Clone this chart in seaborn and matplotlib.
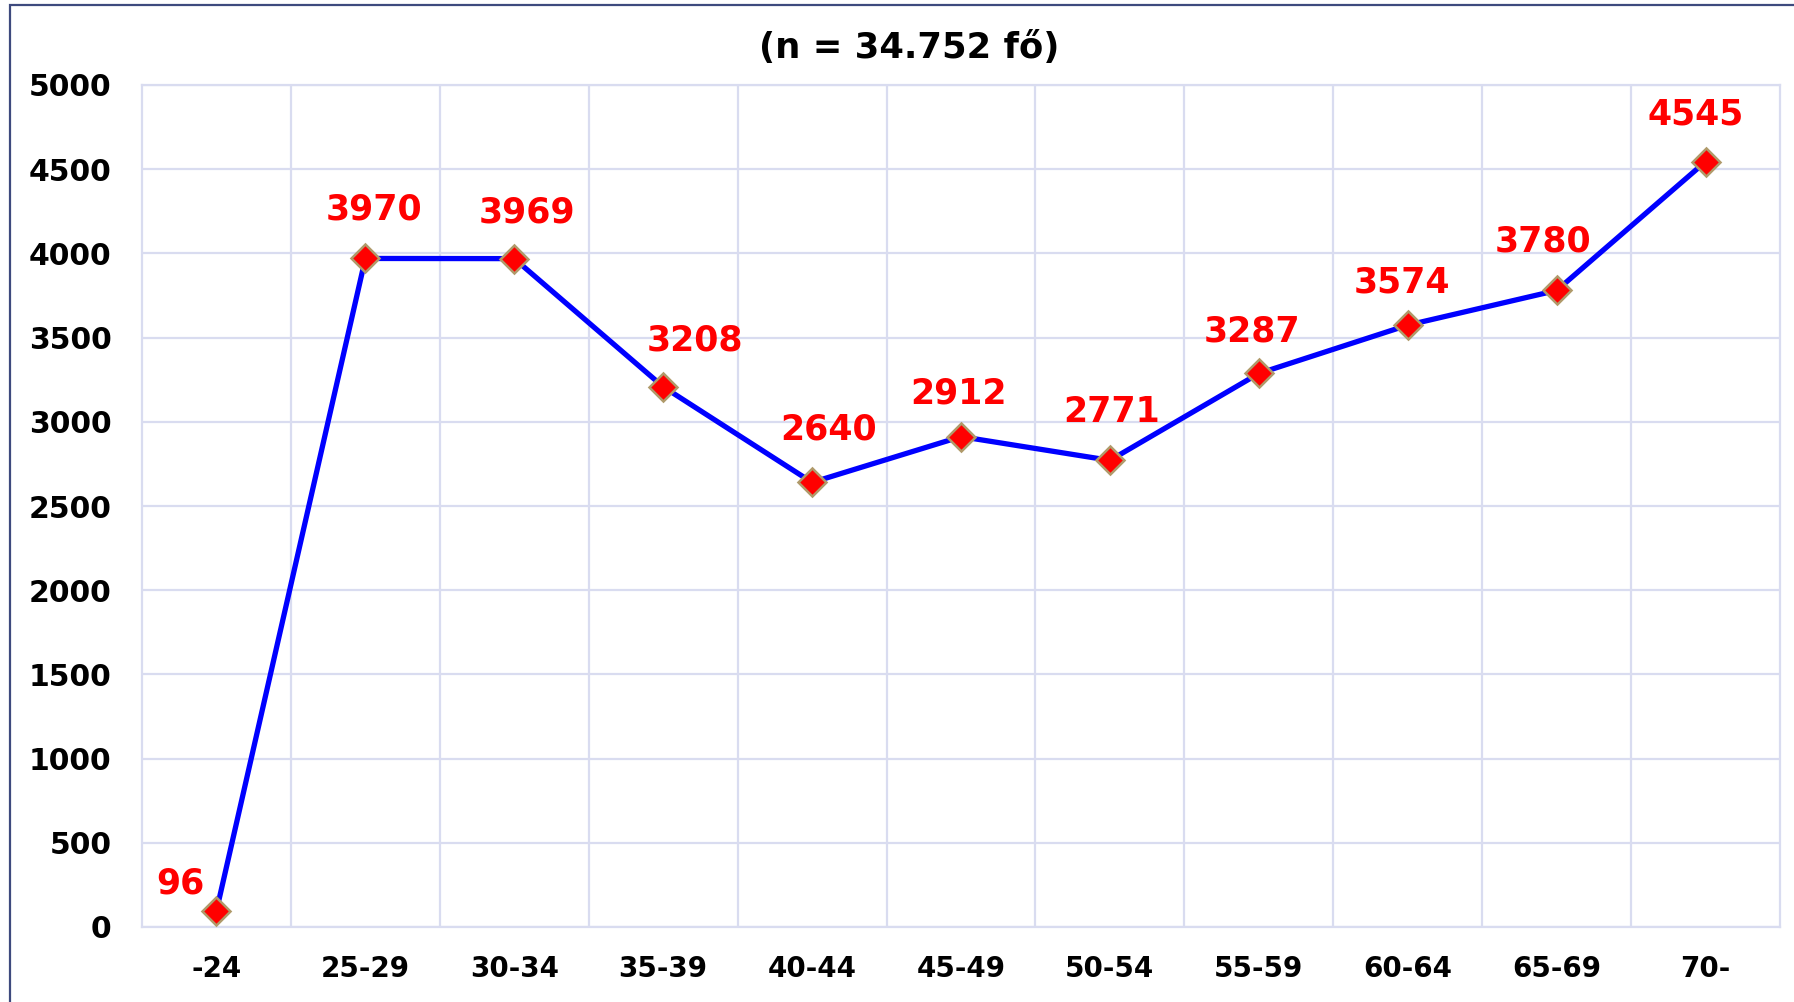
import pandas as pd
import matplotlib
matplotlib.use("Agg")
import matplotlib.pyplot as plt
import matplotlib.patches as patches
import seaborn as sns

# Adatok
korcsoportok = ["-24", "25-29", "30-34", "35-39", "40-44", "45-49",
                "50-54", "55-59", "60-64", "65-69", "70-"]
letszam = [96, 3970, 3969, 3208, 2640, 2912, 2771, 3287, 3574, 3780, 4545]
cim = "(n = 34.752 fő)"

# Cimkek eltolasa (pontban)
cimke_dx = [-26, 6, 9, 23, 12, -2, 1, -5, -4, -10, -7]
cimke_dy = [20, 35, 33, 33, 38, 31, 35, 30, 31, 35, 34]

df = pd.DataFrame({"Korcsoport": korcsoportok, "Letszam": letszam})

sns.set_style("white")
plt.rcParams["font.family"] = ["DejaVu Sans"]
plt.rcParams["font.weight"] = "bold"
plt.rcParams["text.color"] = "black"
plt.rcParams["xtick.color"] = "black"
plt.rcParams["ytick.color"] = "black"

fig = plt.figure(figsize=(17.94, 10.02), dpi=100)
ax = fig.add_axes([142 / 1794, 1 - 927 / 1002, (1780 - 142) / 1794, (927 - 85) / 1002])

racs = "#d9dcf0"
sns.lineplot(data=df, x="Korcsoport", y="Letszam", ax=ax, color="#0000ff",
             linewidth=3.8, marker="D", markersize=14,
             markerfacecolor="#ff0000", markeredgecolor="#b09a6a",
             markeredgewidth=1.8, zorder=3)

for i, v in enumerate(letszam):
    ax.annotate(str(v), (i, v), xytext=(cimke_dx[i], cimke_dy[i]),
                textcoords="offset points", ha="center", va="center",
                color="#ff0000", fontsize=25, fontweight="bold")

ax.set_xlim(-0.5, len(korcsoportok) - 0.5)
ax.set_ylim(0, 5000)
ax.set_yticks(range(0, 5001, 500))
ax.set_xticks(range(len(korcsoportok)))
ax.set_xticklabels(korcsoportok)
ax.set_xticks([i + 0.5 for i in range(len(korcsoportok) - 1)], minor=True)
ax.grid(True, axis="y", color=racs, linewidth=1.6)
ax.grid(True, axis="x", which="minor", color=racs, linewidth=1.6)
ax.grid(False, axis="x", which="major")
ax.tick_params(axis="x", which="both", length=0, pad=20.5, labelsize=20, labelcolor="black")
ax.tick_params(axis="y", length=0, pad=22, labelsize=21.5, labelcolor="black")
for lbl in ax.get_xticklabels() + ax.get_yticklabels():
    lbl.set_fontweight("bold")
for s in ax.spines.values():
    s.set_color(racs)
    s.set_linewidth(1.6)
ax.set_xlabel("")
ax.set_ylabel("")

fig.text(909 / 1794, 1 - 48 / 1002, cim, ha="center", va="center",
         fontsize=25.5, fontweight="bold", color="black")

keret = patches.Rectangle((9.5 / 1794, -0.01), 1.02, 1 - 5 / 1002 + 0.01,
                          transform=fig.transFigure, fill=False,
                          edgecolor="#3e4a7e", linewidth=1.6)
fig.patches.append(keret)

fig.savefig("out.png", dpi=100)
